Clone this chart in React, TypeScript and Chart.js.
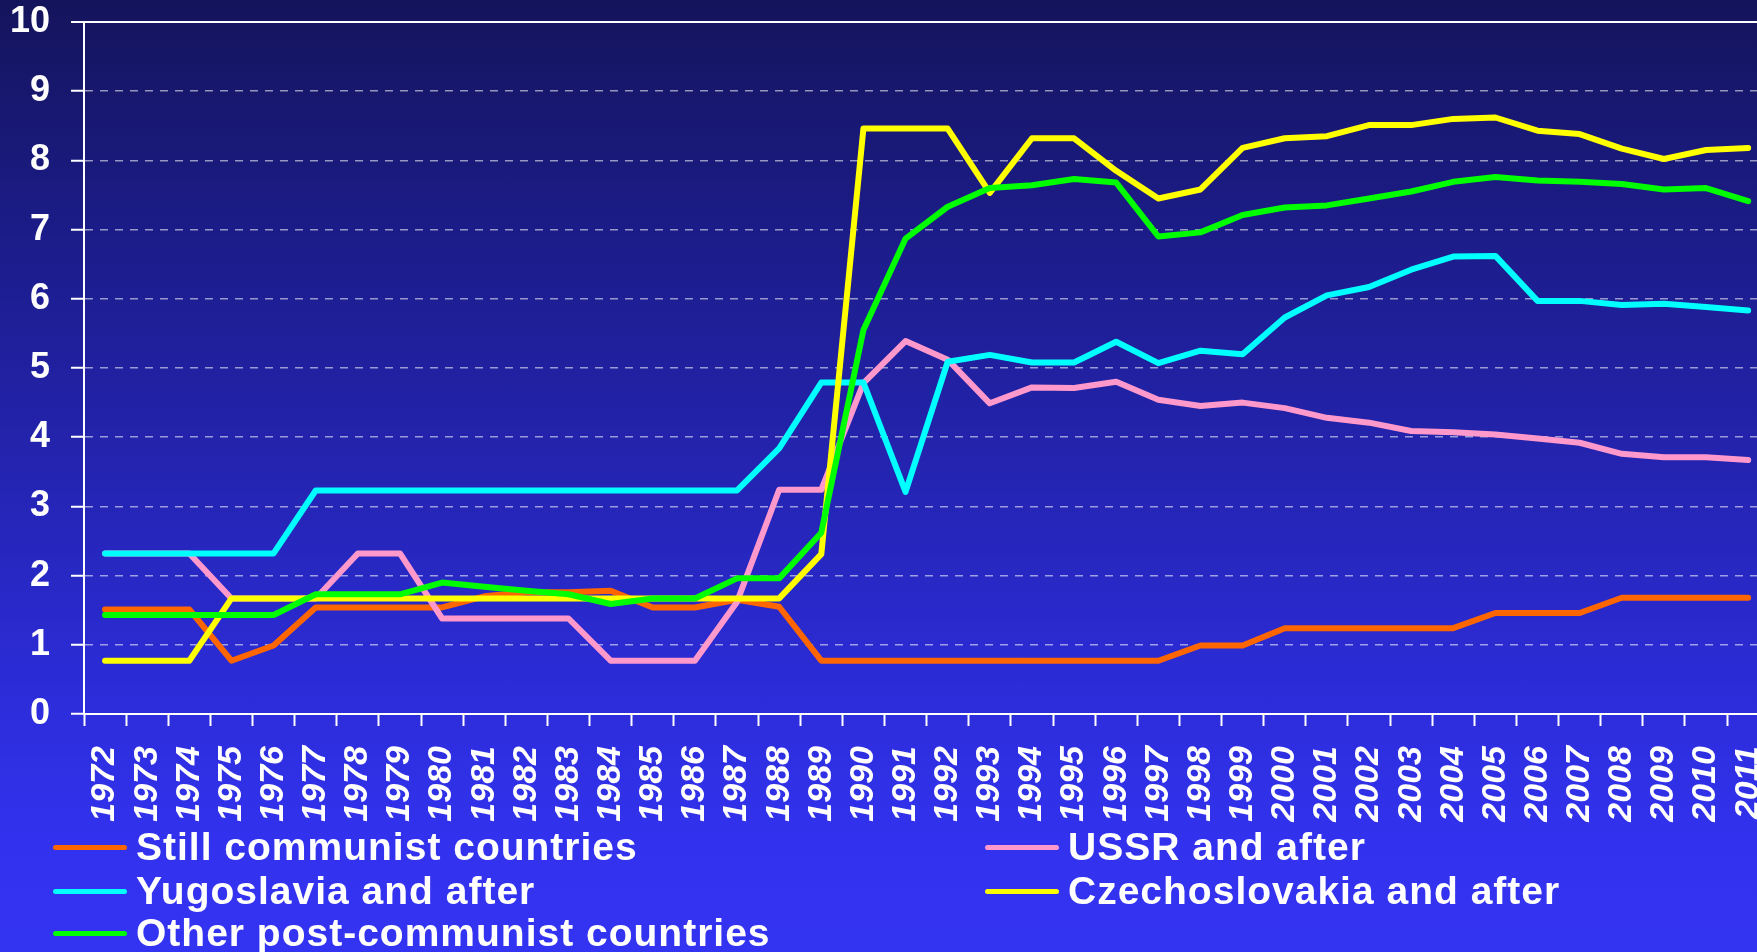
import React, { useEffect, useRef } from "react";
import { Chart, registerables } from "chart.js";

Chart.register(...registerables);

const years = [
  "1972", "1973", "1974", "1975", "1976", "1977", "1978", "1979", "1980", "1981",
  "1982", "1983", "1984", "1985", "1986", "1987", "1988", "1989", "1990", "1991",
  "1992", "1993", "1994", "1995", "1996", "1997", "1998", "1999", "2000", "2001",
  "2002", "2003", "2004", "2005", "2006", "2007", "2008", "2009", "2010", "2011",
];

const stillCommunist = [
  1.51, 1.51, 1.51, 0.77, 0.99, 1.54, 1.54, 1.54, 1.54, 1.7,
  1.76, 1.76, 1.78, 1.54, 1.54, 1.65, 1.55, 0.77, 0.77, 0.77,
  0.77, 0.77, 0.77, 0.77, 0.77, 0.77, 0.99, 0.99, 1.24, 1.24,
  1.24, 1.24, 1.24, 1.46, 1.46, 1.46, 1.68, 1.68, 1.68, 1.68,
];

const ussrAndAfter = [
  2.32, 2.32, 2.32, 1.67, 1.67, 1.67, 2.32, 2.32, 1.38, 1.38,
  1.38, 1.38, 0.77, 0.77, 0.77, 1.62, 3.24, 3.24, 4.78, 5.39,
  5.12, 4.49, 4.72, 4.71, 4.8, 4.54, 4.45, 4.5, 4.42, 4.28,
  4.21, 4.09, 4.07, 4.04, 3.98, 3.92, 3.76, 3.71, 3.71, 3.67,
];

const yugoslaviaAndAfter = [
  2.32, 2.32, 2.32, 2.32, 2.32, 3.23, 3.23, 3.23, 3.23, 3.23,
  3.23, 3.23, 3.23, 3.23, 3.23, 3.23, 3.84, 4.79, 4.79, 3.21,
  5.09, 5.19, 5.08, 5.08, 5.38, 5.07, 5.25, 5.2, 5.73, 6.05,
  6.17, 6.42, 6.61, 6.62, 5.97, 5.97, 5.91, 5.93, 5.88, 5.83,
];

const czechoslovakiaAndAfter = [
  0.77, 0.77, 0.77, 1.67, 1.67, 1.67, 1.67, 1.67, 1.67, 1.67,
  1.67, 1.67, 1.67, 1.67, 1.67, 1.67, 1.67, 2.31, 8.46, 8.46,
  8.46, 7.53, 8.32, 8.32, 7.85, 7.45, 7.58, 8.18, 8.32, 8.35,
  8.51, 8.51, 8.6, 8.62, 8.43, 8.38, 8.17, 8.02, 8.15, 8.18,
];

const otherPostCommunist = [
  1.43, 1.43, 1.43, 1.43, 1.43, 1.73, 1.73, 1.73, 1.9, 1.84,
  1.78, 1.73, 1.59, 1.67, 1.67, 1.96, 1.96, 2.62, 5.55, 6.87,
  7.33, 7.6, 7.64, 7.73, 7.68, 6.9, 6.96, 7.21, 7.32, 7.35,
  7.45, 7.55, 7.69, 7.76, 7.71, 7.69, 7.66, 7.58, 7.6, 7.41,
];

const seriesNames = [
  "Still communist countries",
  "USSR and after",
  "Yugoslavia and after",
  "Czechoslovakia and after",
  "Other post-communist countries",
];
const seriesValues = [
  stillCommunist,
  ussrAndAfter,
  yugoslaviaAndAfter,
  czechoslovakiaAndAfter,
  otherPostCommunist,
];
const seriesColors = ["#FF6600", "#FF99CC", "#00FFFF", "#FFFF00", "#00FF00"];

const FONT = "'Liberation Sans', Arial, Helvetica, sans-serif";
const CANVAS_W = 1809;
const CANVAS_H = 952;

const legendColX = [53, 985];
const legendRowY = [847, 891, 933];

export default function App() {
  const ref = useRef<HTMLCanvasElement>(null);

  useEffect(() => {
    const canvas = ref.current;
    if (!canvas) return;
    const chart = new Chart(canvas, {
      type: "line",
      data: {
        labels: years,
        datasets: seriesNames.map((name, i) => ({
          label: name,
          data: seriesValues[i],
          borderColor: seriesColors[i],
          backgroundColor: seriesColors[i],
          borderWidth: 6,
          pointRadius: 0,
          pointHoverRadius: 0,
          tension: 0,
          fill: false,
          borderCapStyle: "round",
          borderJoinStyle: "round",
          order: seriesNames.length - i,
        })),
      },
      options: {
        responsive: false,
        animation: false,
        devicePixelRatio: 1,
        layout: { padding: { top: 22, left: 0, right: 2, bottom: 118 } },
        plugins: {
          legend: { display: false },
          tooltip: { enabled: false },
          title: { display: false },
        },
        scales: {
          x: {
            type: "category",
            offset: true,
            afterFit: (scale: any) => {
              scale.height = 120;
            },
            grid: {
              display: true,
              drawOnChartArea: false,
              offset: true,
              drawTicks: true,
              tickLength: 12,
              tickColor: "#FFFFFF",
              tickWidth: 2,
            },
            border: { display: true, color: "#FFFFFF", width: 2 },
            ticks: {
              color: "#FFFFFF",
              autoSkip: false,
              maxRotation: 90,
              minRotation: 90,
              padding: 20,
              font: { family: FONT, size: 34, weight: "bold", style: "italic" },
            },
          },
          y: {
            min: 0,
            max: 10,
            afterFit: (scale: any) => {
              scale.width = 84;
              scale.paddingTop = 0;
              scale.paddingBottom = 0;
            },
            grid: {
              display: true,
              drawOnChartArea: true,
              color: (ctx: any) =>
                ctx.tick && ctx.tick.value === 10 ? "#FFFFFF" : "rgba(255,255,255,0.55)",
              lineWidth: (ctx: any) => (ctx.tick && ctx.tick.value === 10 ? 2 : 1.5),
              drawTicks: true,
              tickLength: 13,
              tickColor: "#FFFFFF",
              tickWidth: 2,
            },
            border: {
              display: true,
              color: "#FFFFFF",
              width: 2,
              dash: (ctx: any) =>
                ctx.tick && (ctx.tick.value === 10 || ctx.tick.value === 0) ? [] : [8, 7],
            },
            ticks: {
              stepSize: 1,
              color: "#FFFFFF",
              padding: 21,
              font: { family: FONT, size: 36, weight: "bold" },
            },
          },
        },
      },
    });
    return () => chart.destroy();
  }, []);

  return (
    <div
      style={{
        position: "fixed",
        left: 0,
        top: 0,
        width: 1757,
        height: 952,
        overflow: "hidden",
        background:
          "linear-gradient(to bottom, #14145c 0%, #1c1c8a 25%, #2424b2 50%, #2c2cd8 72%, #3232ee 88%, #3333f2 100%)",
      }}
    >
      <canvas
        ref={ref}
        width={CANVAS_W}
        height={CANVAS_H}
        style={{ position: "absolute", left: 0, top: 0, width: CANVAS_W, height: CANVAS_H, display: "block" }}
      />
      {seriesNames.map((name, i) => (
        <div
          key={name}
          style={{
            position: "absolute",
            left: legendColX[i % 2],
            top: legendRowY[Math.floor(i / 2)] - 25,
            height: 50,
            display: "flex",
            alignItems: "center",
            whiteSpace: "nowrap",
          }}
        >
          <div
            style={{
              width: 74,
              height: 5,
              borderRadius: 3,
              background: seriesColors[i],
            }}
          />
          <span
            style={{
              marginLeft: 9,
              fontFamily: FONT,
              fontWeight: "bold",
              fontSize: 39,
              letterSpacing: "1px",
              color: "#FFFFFF",
              lineHeight: "50px",
            }}
          >
            {name}
          </span>
        </div>
      ))}
    </div>
  );
}
